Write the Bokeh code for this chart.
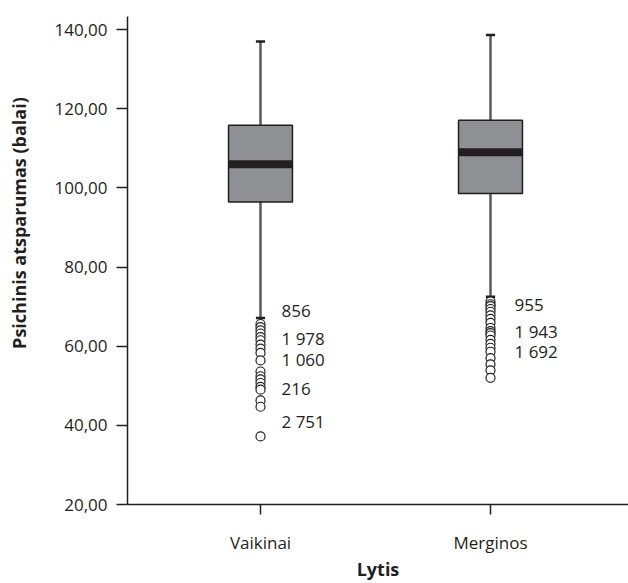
from bokeh.plotting import figure
from bokeh.models import FixedTicker, Range1d
from bokeh.embed import file_html
from bokeh.resources import INLINE
from bokeh.core.properties import value

# ---- data ----
categories = ["Vaikinai", "Merginos"]
positions = [1, 2]
q1 = [96.4, 98.6]
medians = [106.0, 109.0]
q3 = [115.8, 117.1]
whisker_low = [67.1, 72.5]
whisker_high = [137.0, 138.6]

outliers_vaikinai = [65.6, 64.8, 64.0, 63.2, 62.3, 61.5, 60.4, 59.4, 58.3, 56.4,
                     53.6, 52.4, 51.6, 50.7, 49.7, 49.0, 46.3, 44.7, 37.2]
outliers_merginos = [71.3, 70.6, 70.1, 69.4, 68.7, 67.8, 66.9, 65.9, 64.6, 63.8,
                     63.3, 62.7, 61.6, 60.6, 59.6, 58.6, 57.0, 55.4, 53.9, 52.0]

labels_vaikinai = ["856", "1 978", "1 060", "216", "2 751"]
label_y_vaikinai = [68.8, 61.9, 56.6, 49.3, 41.0]
labels_merginos = ["955", "1 943", "1 692"]
label_y_merginos = [70.5, 63.7, 58.7]

y_ticks = [20, 40, 60, 80, 100, 120, 140]
y_tick_labels = ["20,00", "40,00", "60,00", "80,00", "100,00", "120,00", "140,00"]

x_title = "Lytis"
y_title = "Psichinis atsparumas (balai)"

# ---- styles ----
FONT = "Open Sans"
INK = "#231f20"
BOX_FILL = "#8f9094"
WHISKER = "#58595b"
HALF_BOX = 0.139
HALF_CAP = 0.02
Y_TITLE_PAD = "\u00a0" * 16   # shifts the centred y title upward, as in the original

p = figure(width=628, height=583, output_backend="svg", toolbar_location=None,
           x_range=Range1d(0.4217, 2.6), y_range=Range1d(20, 143.3),
           min_border_left=127, min_border_right=0, min_border_top=16,
           min_border_bottom=78)
p.outline_line_color = None
p.xgrid.visible = False
p.ygrid.visible = False
p.background_fill_color = "white"

left = [x - HALF_BOX for x in positions]
right = [x + HALF_BOX for x in positions]
cap_l = [x - HALF_CAP for x in positions]
cap_r = [x + HALF_CAP for x in positions]

# whiskers
p.segment(x0=positions, x1=positions, y0=q3, y1=whisker_high,
          line_color=WHISKER, line_width=2.5)
p.segment(x0=positions, x1=positions, y0=whisker_low, y1=q1,
          line_color=WHISKER, line_width=2.5)
# caps
p.segment(x0=cap_l, x1=cap_r, y0=whisker_high, y1=whisker_high,
          line_color=INK, line_width=2.5, line_cap="butt")
p.segment(x0=cap_l, x1=cap_r, y0=whisker_low, y1=whisker_low,
          line_color=INK, line_width=2.5, line_cap="butt")
# boxes
p.quad(left=left, right=right, bottom=q1, top=q3,
       fill_color=BOX_FILL, line_color=INK, line_width=1.5)
# medians
p.segment(x0=left, x1=right, y0=medians, y1=medians,
          line_color=INK, line_width=8, line_cap="butt")

# outliers
p.scatter(x=[positions[0]] * len(outliers_vaikinai), y=outliers_vaikinai,
          marker="circle", size=9, fill_color="white", line_color=INK, line_width=1.2)
p.scatter(x=[positions[1]] * len(outliers_merginos), y=outliers_merginos,
          marker="circle", size=9, fill_color="white", line_color=INK, line_width=1.2)

# outlier labels
p.text(x=[positions[0]] * len(labels_vaikinai), y=label_y_vaikinai, text=labels_vaikinai,
       x_offset=21, text_baseline="middle", text_align="left",
       text_font=value(FONT), text_font_size="17px", text_color=INK)
p.text(x=[positions[1]] * len(labels_merginos), y=label_y_merginos, text=labels_merginos,
       x_offset=24, text_baseline="middle", text_align="left",
       text_font=value(FONT), text_font_size="17px", text_color=INK)

# axes
p.xaxis.ticker = FixedTicker(ticks=positions)
p.xaxis.major_label_overrides = {pos: c for pos, c in zip(positions, categories)}
p.yaxis.ticker = FixedTicker(ticks=y_ticks)
p.yaxis.major_label_overrides = {t: l for t, l in zip(y_ticks, y_tick_labels)}

for ax in (p.xaxis[0], p.yaxis[0]):
    ax.axis_line_color = INK
    ax.axis_line_width = 1.5
    ax.major_tick_line_color = INK
    ax.major_tick_line_width = 1.5
    ax.major_tick_out = 11
    ax.major_tick_in = 0
    ax.minor_tick_line_color = None
    ax.major_label_text_font = FONT
    ax.major_label_text_font_size = "17px"
    ax.major_label_text_color = INK
    ax.axis_label_text_font = FONT
    ax.axis_label_text_font_style = "bold"
    ax.axis_label_text_font_size = "18px"
    ax.axis_label_text_color = INK

p.xaxis.axis_label = x_title
p.xaxis.major_tick_out = 10
p.xaxis.major_label_standoff = 16
p.xaxis.axis_label_standoff = 0
p.yaxis.major_label_standoff = 9
p.yaxis.axis_label = Y_TITLE_PAD + y_title
p.yaxis.axis_label_standoff = 20

open("out.html", "w").write(file_html(p, INLINE))
